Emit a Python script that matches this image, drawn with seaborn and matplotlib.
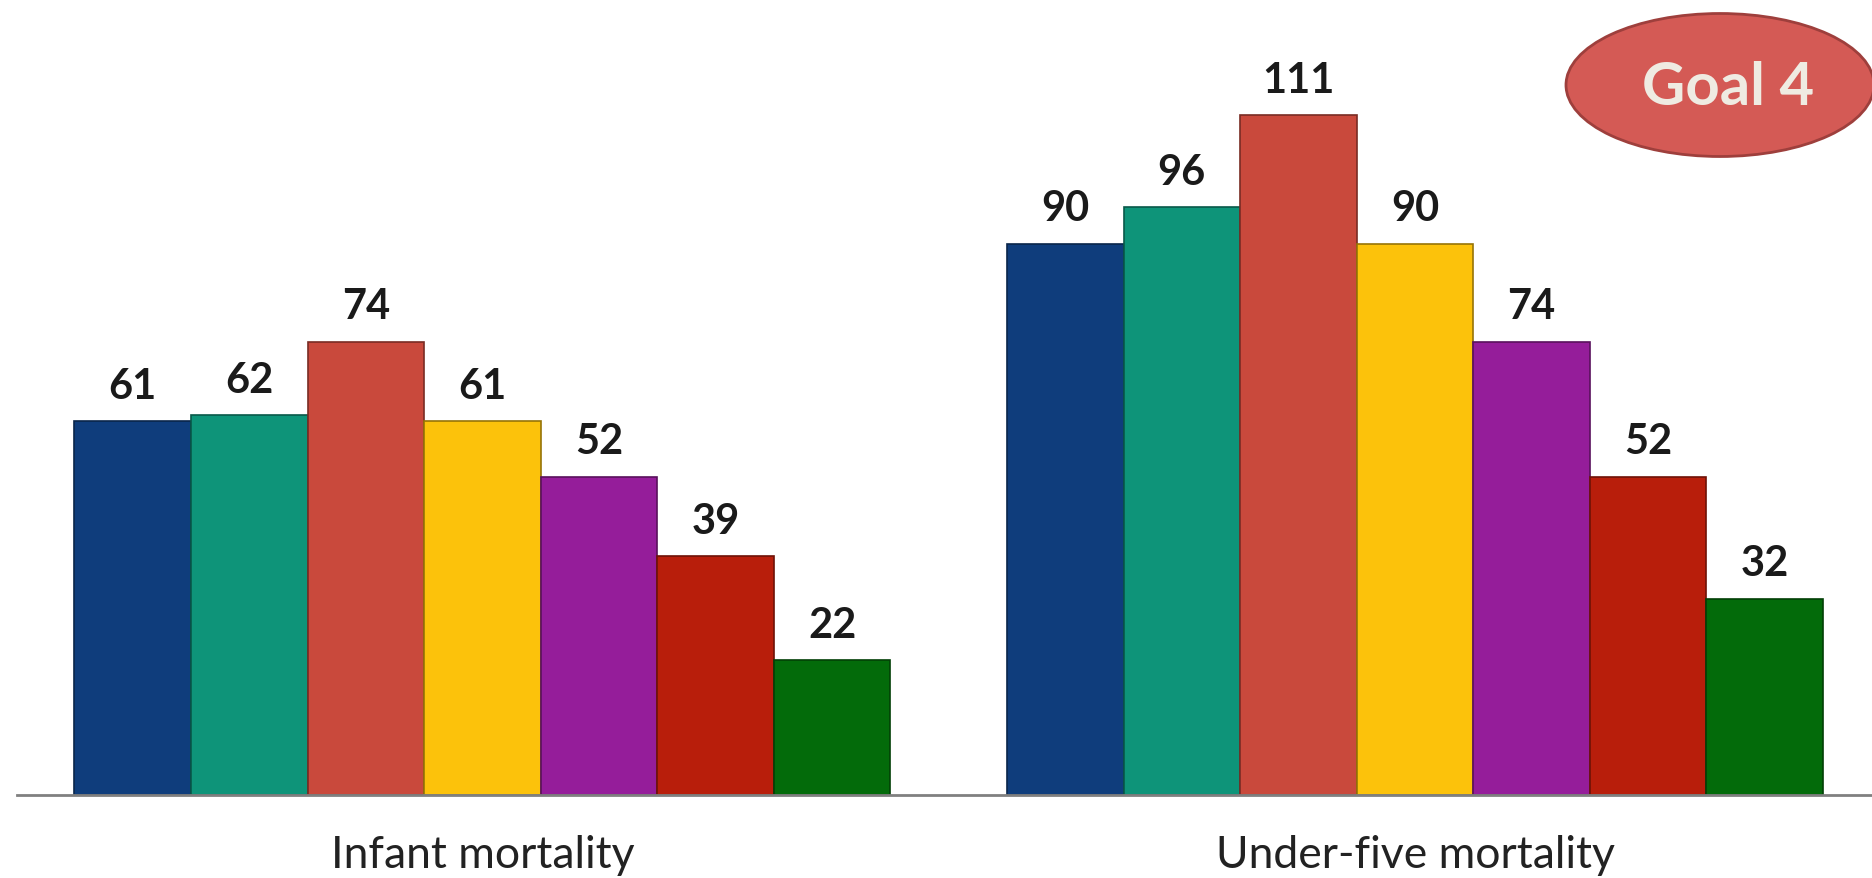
import matplotlib
matplotlib.use("Agg")
import matplotlib.pyplot as plt
import matplotlib.colors as mcolors
from matplotlib.patches import Ellipse
import pandas as pd
import seaborn as sns

# data
groups = ["Infant mortality", "Under-five mortality"]
series = ["S1", "S2", "S3", "S4", "S5", "S6", "S7"]
infant = [61, 62, 74, 61, 52, 39, 22]
under_five = [90, 96, 111, 90, 74, 52, 32]
bar_colors = ["#0f3d7c", "#0e9479", "#c9493c", "#fcc20b", "#951d9a", "#b81e0b", "#036b0a"]

df = pd.DataFrame({
    "group": [groups[0]] * len(series) + [groups[1]] * len(series),
    "series": series * 2,
    "value": infant + under_five,
})

sns.set_style("white")
plt.rcParams["font.family"] = ["Lato", "DejaVu Sans"]

fig = plt.figure(figsize=(18.72, 8.79), dpi=100)
ax = fig.add_axes([17 / 1872, 83 / 879, 1 - 17 / 1872, 796 / 879])

sns.barplot(data=df, x="group", y="value", hue="series", order=groups,
            hue_order=series, palette=bar_colors, saturation=1, width=0.875,
            gap=0, legend=False, ax=ax)

for patch in ax.patches:
    rgb = mcolors.to_rgb(patch.get_facecolor())
    patch.set_edgecolor(tuple(c * 0.6 for c in rgb))
    patch.set_linewidth(1.2)

for cont in ax.containers:
    ax.bar_label(cont, fmt="%d", padding=12, fontsize=30, fontweight="bold",
                 color="#1a1a1a")

ax.set_ylim(0, 130)
ax.set_xlim(-0.499, 1.49)
ax.set_xlabel("")
ax.set_ylabel("")
ax.set_yticks([])
ax.tick_params(axis="x", length=0, pad=28, labelsize=32, labelcolor="#222222")
for side in ["top", "left", "right"]:
    ax.spines[side].set_visible(False)
ax.spines["bottom"].set_color("#808080")
ax.spines["bottom"].set_linewidth(2)

badge = Ellipse((1720 / 1872, 1 - 86 / 879), 308 / 1872, 143 / 879,
                transform=fig.transFigure, facecolor="#d45a55",
                edgecolor="#9e3f3c", linewidth=2, zorder=5)
fig.patches.append(badge)
fig.text(1728 / 1872, 1 - 88 / 879, "Goal 4", ha="center", va="center",
         fontsize=43, fontweight="bold", color="#efebe2", zorder=6)

fig.savefig("out.png", dpi=100)
